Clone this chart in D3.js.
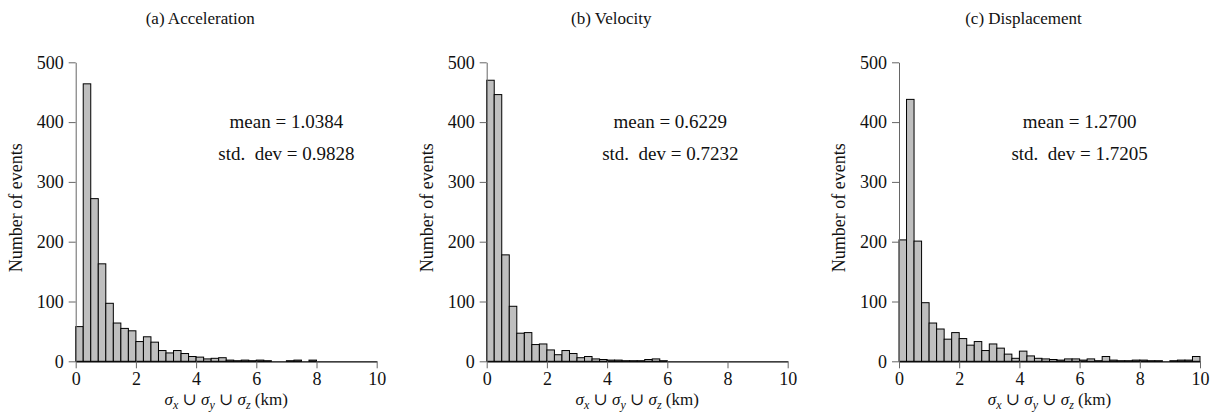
<!DOCTYPE html>
<html>
<head>
<meta charset="utf-8">
<script src="https://cdn.jsdelivr.net/npm/d3@7"></script>
<style>
  html, body { margin: 0; padding: 0; background: #fff; }
  svg { display: block; }
  text { font-family: "Liberation Serif", "DejaVu Serif", serif; fill: #111; }
</style>
</head>
<body>
<svg id="chart" width="1215" height="419"></svg>
<script>
// Histogram bins: 40 bins of 0.25 km on [0, 10]
const binWidth = 0.25;
const xTicks = [0, 2, 4, 6, 8, 10];
const yTicks = [0, 100, 200, 300, 400, 500];

const titles = ["(a) Acceleration", "(b) Velocity", "(c) Displacement"];
const means = ["1.0384", "0.6229", "1.2700"];
const stdDevs = ["0.9828", "0.7232", "1.7205"];

const accelCounts = [58, 464, 272, 163, 97, 64, 55, 51, 33, 41,
                     32, 18, 14, 18, 13, 8, 7, 4, 5, 6,
                     2, 1, 2, 1, 2, 1, 0, 0, 1, 2,
                     0, 2, 0, 0, 0, 0, 0, 0, 0, 0];
const velocityCounts = [470, 446, 178, 92, 47, 48, 28, 29, 19, 11,
                        18, 13, 6, 8, 4, 3, 2, 2, 1, 1,
                        1, 3, 4, 1, 0, 0, 0, 0, 0, 0,
                        0, 0, 0, 0, 0, 0, 0, 0, 0, 0];
const displCounts = [203, 438, 201, 98, 64, 54, 37, 48, 38, 27,
                     33, 18, 29, 22, 12, 5, 17, 9, 5, 4,
                     3, 2, 4, 4, 2, 4, 1, 8, 2, 1,
                     1, 2, 2, 1, 1, 0, 1, 2, 2, 8];

const series = [accelCounts, velocityCounts, displCounts];

// Panel geometry
const panelLeft = [75.7, 486.7, 899];
const plotW = 301;
const plotTop = 62.3;
const plotBottom = 361.3;
const statX = [7.0, 6.1, 6.0];   // horizontal centre of the statistics text, in km

const svg = d3.select("#chart");

series.forEach((counts, i) => {
  const x = d3.scaleLinear().domain([0, 10]).range([panelLeft[i], panelLeft[i] + plotW]);
  const y = d3.scaleLinear().domain([0, 500]).range([plotBottom, plotTop]);
  const g = svg.append("g");

  // bars
  g.selectAll("rect.bar")
    .data(counts)
    .join("rect")
    .attr("class", "bar")
    .attr("x", (d, j) => x(j * binWidth))
    .attr("width", (d, j) => x((j + 1) * binWidth) - x(j * binWidth))
    .attr("y", d => y(d))
    .attr("height", d => y(0) - y(d))
    .attr("fill", "#bfbfbf")
    .attr("stroke", "#000")
    .attr("stroke-width", 1);

  // y axis
  const ya = g.append("g")
    .attr("transform", `translate(${x(0)},0)`)
    .call(d3.axisLeft(y).tickValues(yTicks).tickSize(7).tickSizeOuter(0).tickPadding(5));
  ya.select(".domain").attr("stroke", "#666").attr("stroke-width", 1);
  ya.selectAll(".tick line").attr("stroke", "#666");
  ya.selectAll(".tick text")
    .style("font-family", '"Liberation Serif", serif')
    .style("font-size", "18px")
    .attr("fill", "#111");

  // x axis
  const xa = g.append("g")
    .attr("transform", `translate(0,${y(0)})`)
    .call(d3.axisBottom(x).tickValues(xTicks).tickSize(7).tickSizeOuter(0).tickPadding(4));
  xa.select(".domain").attr("stroke", "#000").attr("stroke-width", 1.2);
  xa.selectAll(".tick line").attr("stroke", "#666");
  xa.selectAll(".tick text")
    .style("font-family", '"Liberation Serif", serif')
    .style("font-size", "18px")
    .attr("fill", "#111");

  // title
  const cx = x(5);
  g.append("text")
    .attr("x", cx - 26)
    .attr("y", 24)
    .attr("text-anchor", "middle")
    .style("font-size", "17px")
    .text(titles[i]);

  // y label
  g.append("text")
    .attr("transform", `translate(${x(0) - 54},${(plotTop + plotBottom) / 2 - 4}) rotate(-90)`)
    .attr("text-anchor", "middle")
    .style("font-size", "18px")
    .text("Number of events");

  // x label
  const xl = g.append("text")
    .attr("x", cx)
    .attr("y", 405)
    .attr("text-anchor", "middle")
    .style("font-size", "17px");
  ["x", "y", "z"].forEach((s, k) => {
    xl.append("tspan").style("font-style", "italic").text("σ");
    xl.append("tspan").attr("dy", 4).style("font-size", "12px").style("font-style", "italic").text(s);
    xl.append("tspan").attr("dy", -4).text(k < 2 ? " ∪ " : " (km)");
  });

  // statistics
  g.append("text")
    .attr("x", x(statX[i]))
    .attr("y", 128)
    .attr("text-anchor", "middle")
    .style("font-size", "19px")
    .text(`mean = ${means[i]}`);
  g.append("text")
    .attr("x", x(statX[i]))
    .attr("y", 160)
    .attr("text-anchor", "middle")
    .style("font-size", "19px")
    .style("white-space", "pre")
    .text(`std.  dev = ${stdDevs[i]}`);
});
</script>
</body>
</html>
